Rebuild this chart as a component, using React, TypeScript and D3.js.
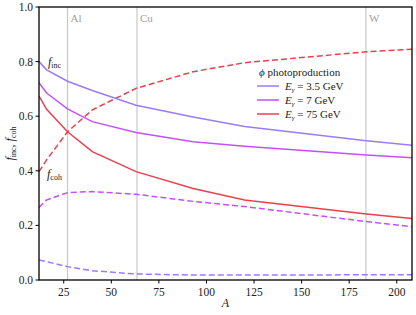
import React from "react";
import * as d3 from "d3";

const A_NODES = [12, 16, 27, 40, 63, 93, 120, 184, 208];
const INC_3_5 = [0.8, 0.77, 0.728, 0.694, 0.64, 0.597, 0.562, 0.51, 0.494];
const INC_7 = [0.723, 0.685, 0.627, 0.58, 0.54, 0.506, 0.49, 0.458, 0.448];
const INC_75 = [0.674, 0.625, 0.543, 0.47, 0.397, 0.335, 0.293, 0.242, 0.225];
const COH_3_5 = [0.073, 0.067, 0.049, 0.034, 0.022, 0.018, 0.018, 0.019, 0.019];
const COH_7 = [0.266, 0.293, 0.32, 0.324, 0.314, 0.288, 0.269, 0.214, 0.195];
const COH_75 = [0.397, 0.44, 0.543, 0.623, 0.702, 0.763, 0.796, 0.836, 0.845];

const ELEMENTS = ["Al", "Cu", "W"];
const ELEMENT_A = [27, 63.5, 183.8];
const X_TICKS = [25, 50, 75, 100, 125, 150, 175, 200];
const Y_TICKS = [0, 0.2, 0.4, 0.6, 0.8, 1.0];
const LEGEND_LABELS = ["3.5", "7", "75"];

const COLORS = ["#9a7cfa", "#c152fa", "#e8414e"];

const W = 416, H = 315;
const ML = 39, MT = 7, MR = 4, MB = 35;

export default function App() {
  const x = d3.scaleLinear().domain([12, 208]).range([ML, W - MR]);
  const y = d3.scaleLinear().domain([0, 1]).range([H - MB, MT]);
  const line = d3
    .line<[number, number]>()
    .x((d) => x(d[0]))
    .y((d) => y(d[1]));
  const mk = (vals: number[]) => A_NODES.map((a, i) => [a, vals[i]] as [number, number]);
  const inc = [INC_3_5, INC_7, INC_75];
  const coh = [COH_3_5, COH_7, COH_75];
  const font = "'Liberation Serif', 'DejaVu Serif', serif";

  return (
    <svg width={W} height={H} style={{ position: "absolute", left: 0, top: 0 }} fontFamily={font}>
      <rect x={0} y={0} width={W} height={H} fill="#fff" />
      {ELEMENT_A.map((a, i) => (
        <g key={ELEMENTS[i]}>
          <line x1={x(a)} x2={x(a)} y1={y(0)} y2={y(1)} stroke="#c8c8c8" strokeWidth={1.2} />
          <text x={x(a) + 3} y={y(1) + 15} fontSize={11} fill="#a0a0a0">
            {ELEMENTS[i]}
          </text>
        </g>
      ))}
      <defs>
        <clipPath id="clip">
          <rect x={x(12)} y={y(1)} width={x(208) - x(12)} height={y(0) - y(1)} />
        </clipPath>
      </defs>
      <g clipPath="url(#clip)">
        {coh.map((vals, i) => (
          <path key={"c" + i} d={line(mk(vals)) || ""} fill="none" stroke={COLORS[i]} strokeWidth={1.5} strokeDasharray="6,3" />
        ))}
        {inc.map((vals, i) => (
          <path key={"i" + i} d={line(mk(vals)) || ""} fill="none" stroke={COLORS[i]} strokeWidth={1.5} />
        ))}
      </g>
      {/* frame */}
      <rect x={x(12)} y={y(1)} width={x(208) - x(12)} height={y(0) - y(1)} fill="none" stroke="#000" strokeWidth={1.3} />
      {/* y ticks */}
      {Y_TICKS.map((t) => (
        <g key={"y" + t}>
          <line x1={x(12) - 3.5} x2={x(12)} y1={y(t)} y2={y(t)} stroke="#000" strokeWidth={1} />
          <text x={x(12) - 6} y={y(t) + 4} fontSize={11.5} textAnchor="end" fill="#222">
            {t.toFixed(1)}
          </text>
        </g>
      ))}
      {X_TICKS.map((t) => (
        <g key={"x" + t}>
          <line x1={x(t)} x2={x(t)} y1={y(0)} y2={y(0) + 3.5} stroke="#000" strokeWidth={1} />
          <text x={x(t)} y={y(0) + 16} fontSize={11.5} textAnchor="middle" fill="#222">
            {t}
          </text>
        </g>
      ))}
      <text x={(x(12) + x(208)) / 2} y={H - 8} fontSize={12} fontStyle="italic" textAnchor="middle" fill="#222">
        A
      </text>
      <text transform={`translate(14, ${(y(0) + y(1)) / 2}) rotate(-90)`} fontSize={12} textAnchor="middle" fill="#222">
        <tspan fontStyle="italic">f</tspan>
        <tspan fontSize={8} dy={2}>inc</tspan>
        <tspan dy={-2}>, </tspan>
        <tspan fontStyle="italic">f</tspan>
        <tspan fontSize={8} dy={2}>coh</tspan>
      </text>
      <text x={48} y={66} fontSize={12} fill="#222">
        <tspan fontStyle="italic">f</tspan>
        <tspan fontSize={8} dy={2}>inc</tspan>
      </text>
      <text x={47} y={178} fontSize={12} fill="#222">
        <tspan fontStyle="italic">f</tspan>
        <tspan fontSize={8} dy={2}>coh</tspan>
      </text>
      {/* legend */}
      <text x={259} y={76} fontSize={11} fill="#222">
        <tspan fontStyle="italic">ϕ</tspan> photoproduction
      </text>
      {LEGEND_LABELS.map((lab, i) => (
        <g key={lab}>
          <line x1={257} x2={279} y1={86 + i * 14} y2={86 + i * 14} stroke={COLORS[i]} strokeWidth={1.5} />
          <text x={285} y={90 + i * 14} fontSize={11} fill="#222">
            <tspan fontStyle="italic">E</tspan>
            <tspan fontSize={7} dy={2} fontStyle="italic">γ</tspan>
            <tspan dy={-2}>{` = ${lab} GeV`}</tspan>
          </text>
        </g>
      ))}
    </svg>
  );
}
